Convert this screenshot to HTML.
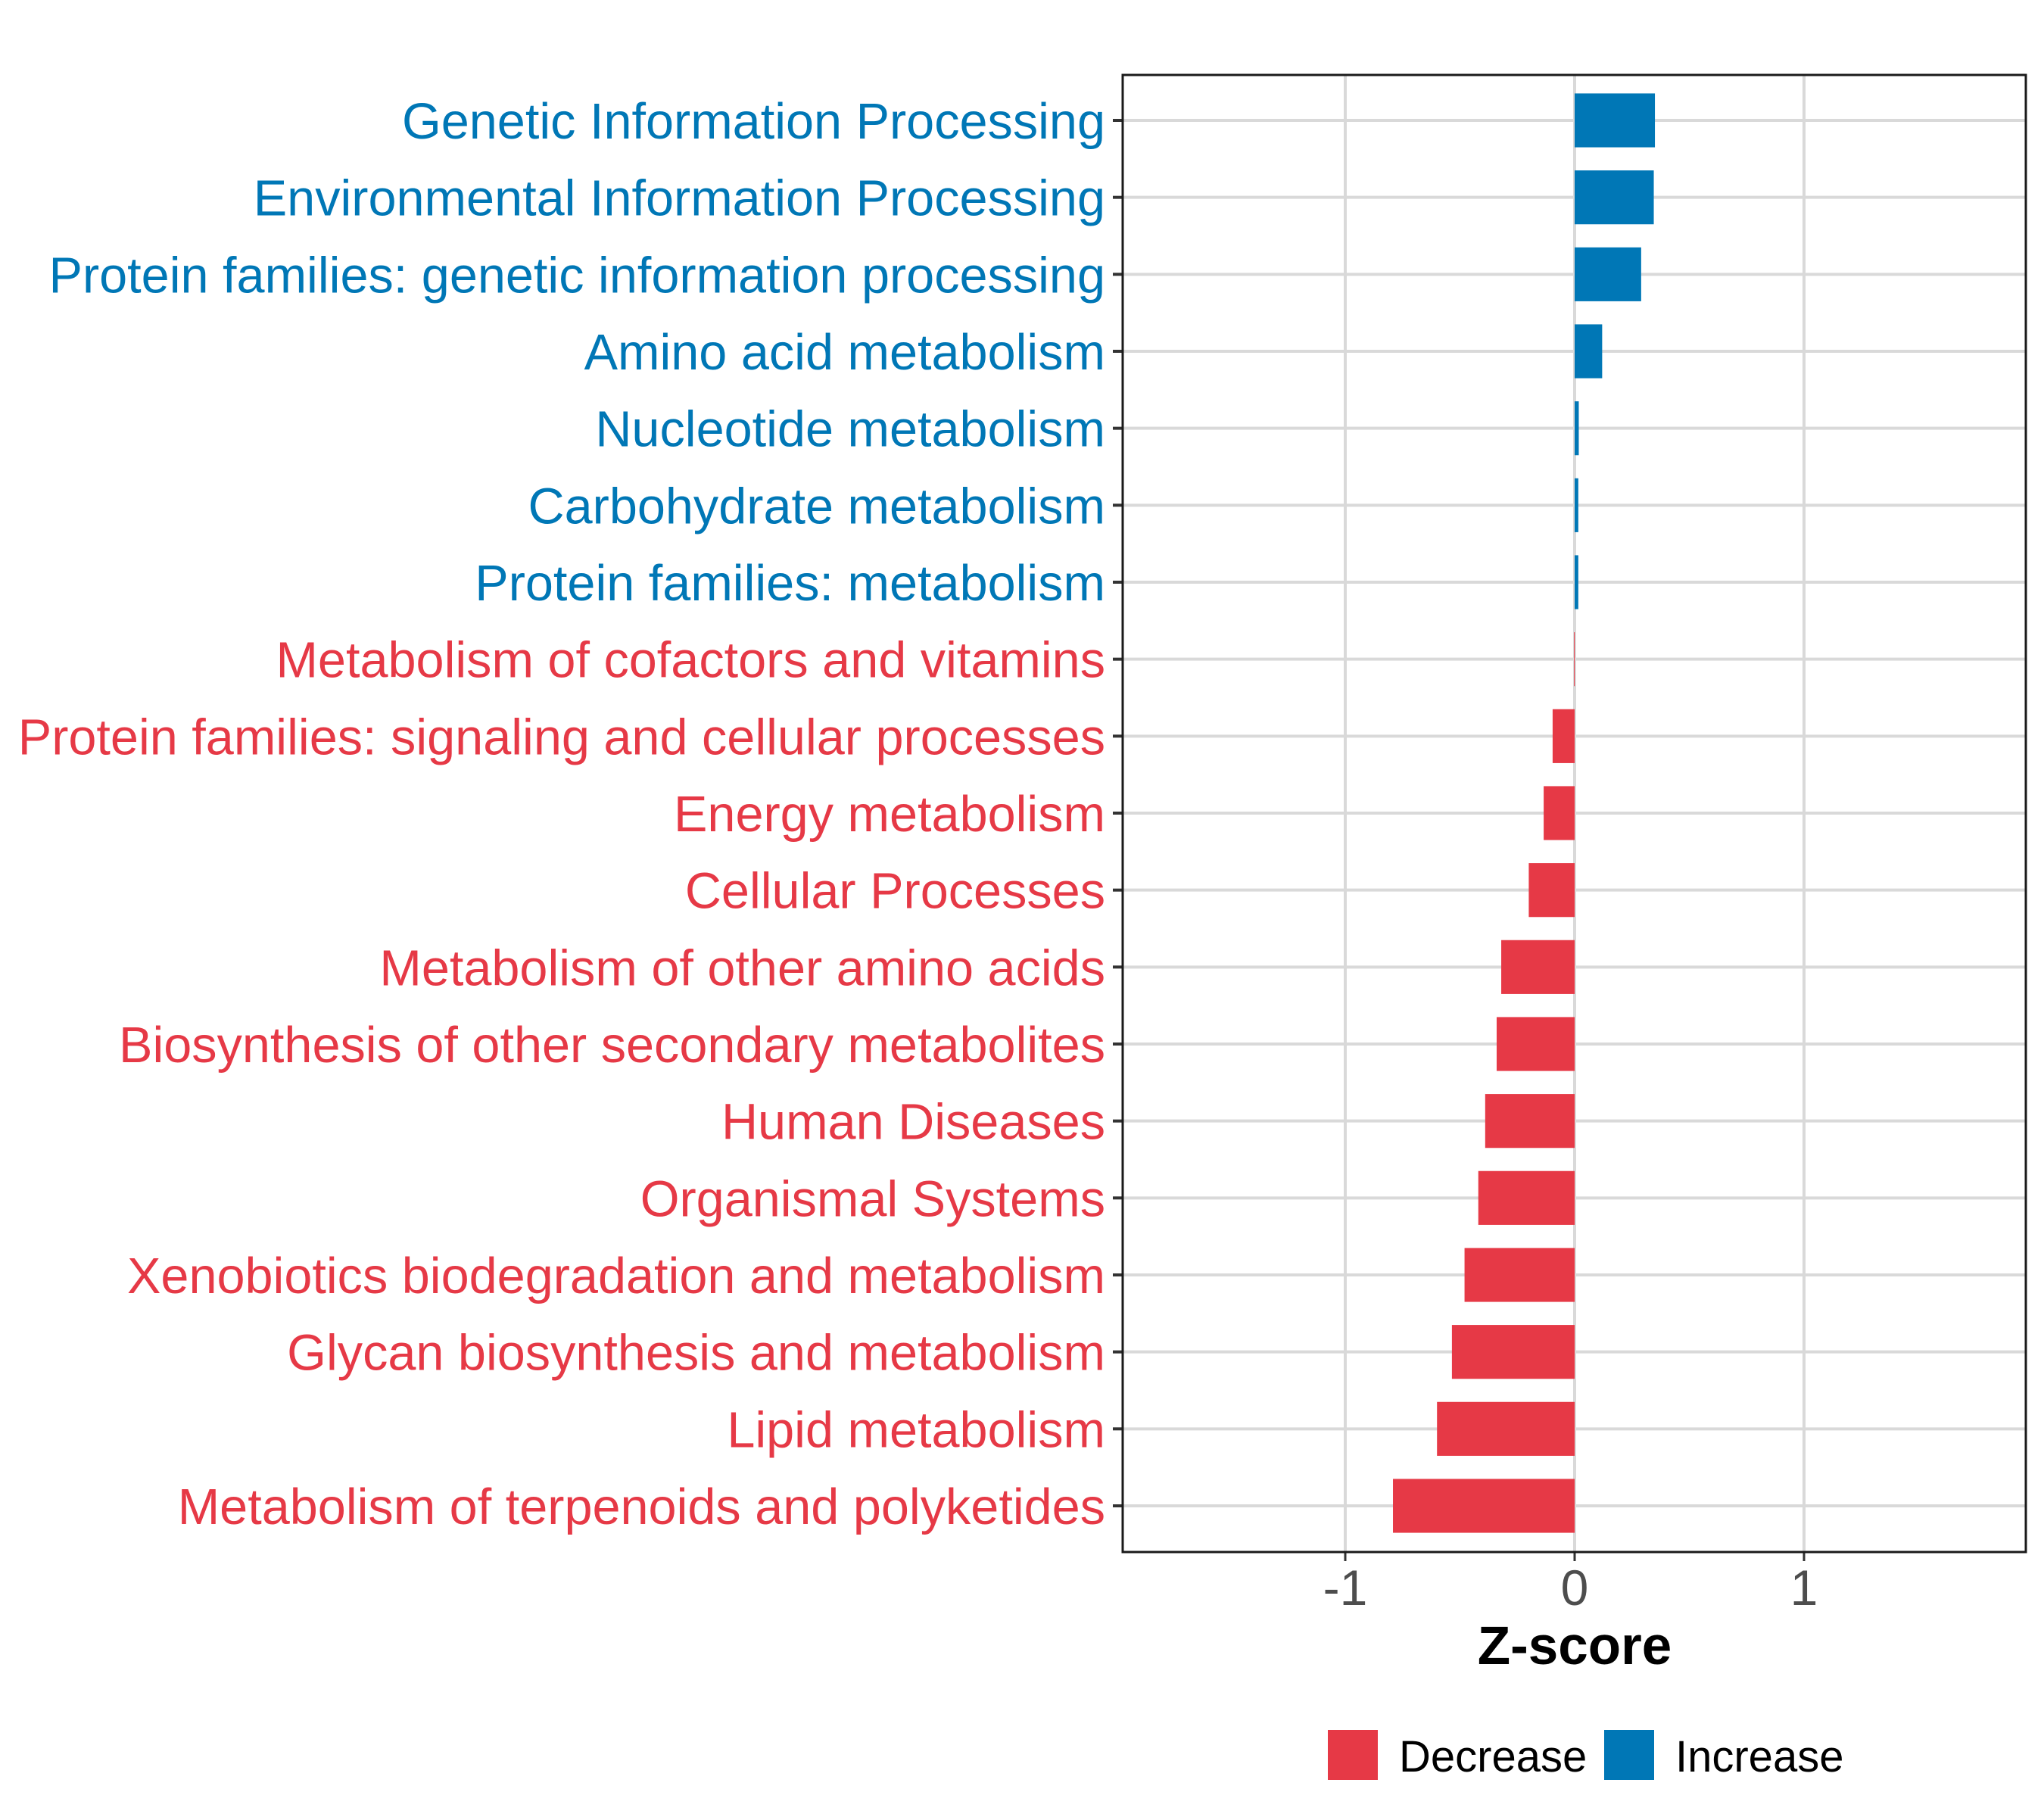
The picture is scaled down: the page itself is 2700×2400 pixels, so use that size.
<!DOCTYPE html>
<html><head><meta charset="utf-8"><style>
html,body{margin:0;padding:0;background:#fff;}
svg{display:block;font-family:"Liberation Sans",Arial,sans-serif;}
</style></head><body>
<svg id="chart" width="2700" height="2400" viewBox="0 0 2700 2400" xmlns="http://www.w3.org/2000/svg">
<rect x="0" y="0" width="2700" height="2400" fill="#fff"/>
<g id="grid"></g><g id="bars"></g><g id="labels"></g><g id="axis"></g>
<rect x="1483" y="99" width="1193" height="1951" fill="none" stroke="#1a1a1a" stroke-width="3"/>
<text x="2080" y="2198" font-size="71" font-weight="bold" text-anchor="middle" fill="#000">Z-score</text>
<g>
<rect x="1754" y="2285" width="66" height="66" fill="#E63946"/>
<text x="1848" y="2340" font-size="58" fill="#000">Decrease</text>
<rect x="2119" y="2285" width="66" height="66" fill="#0077B6"/>
<text x="2213" y="2340" font-size="58" fill="#000">Increase</text>
</g>
</svg>
<script>
const categories = ["Genetic Information Processing","Environmental Information Processing","Protein families: genetic information processing","Amino acid metabolism","Nucleotide metabolism","Carbohydrate metabolism","Protein families: metabolism","Metabolism of cofactors and vitamins","Protein families: signaling and cellular processes","Energy metabolism","Cellular Processes","Metabolism of other amino acids","Biosynthesis of other secondary metabolites","Human Diseases","Organismal Systems","Xenobiotics biodegradation and metabolism","Glycan biosynthesis and metabolism","Lipid metabolism","Metabolism of terpenoids and polyketides"];
const zscores = [0.35,0.345,0.29,0.12,0.018,0.016,0.016,-0.003,-0.096,-0.135,-0.2,-0.32,-0.34,-0.39,-0.42,-0.48,-0.535,-0.6,-0.792];
const xTicks = [-1,0,1];
const xTickLabels = ["-1","0","1"];

const NS="http://www.w3.org/2000/svg";
const L=1483,R=2676,T=99,B=2050;
const x0=2080,unit=303;
function xs(v){return x0+v*unit;}
const rowStep=(1989-159)/18;
function ys(i){return 159+i*rowStep;}
function mk(tag,attrs,parent){const e=document.createElementNS(NS,tag);for(const k in attrs)e.setAttribute(k,attrs[k]);parent.appendChild(e);return e;}
const grid=document.getElementById('grid'),bars=document.getElementById('bars'),labels=document.getElementById('labels'),axis=document.getElementById('axis');
xTicks.forEach((t,i)=>{
  const g=mk('line',{x1:xs(t),x2:xs(t),y1:T,y2:B,stroke:'#d9d9d9','stroke-width':4},grid);
  
  
  const tk=mk('line',{x1:xs(t),x2:xs(t),y1:B,y2:B+12,stroke:'#333','stroke-width':3},axis);
  
  
  const tl=mk('text',{x:xs(t),y:2120,'font-size':66,'text-anchor':'middle',fill:'#4d4d4d'},axis);
  tl.textContent=xTickLabels[i];
  
  
});
categories.forEach((c,i)=>{
  const y=ys(i);
  const gl=mk('line',{x1:L,x2:R,y1:y,y2:y,stroke:'#d9d9d9','stroke-width':4},grid);
  
  
  const v=zscores[i];
  const col=v>=0?'#0077B6':'#E63946';
  const h=rowStep*0.7;
  const bx=Math.min(xs(0),xs(v)),bw=Math.max(Math.abs(xs(v)-xs(0)),1);
  const b=mk('rect',{x:bx,y:y-h/2,width:bw,height:h,fill:col},bars);
  
  
  const tk=mk('line',{x1:1470,x2:L,y1:y,y2:y,stroke:'#333','stroke-width':4},axis);
  
  
  const t=mk('text',{x:1460,y:y+24,'font-size':66.6,'text-anchor':'end',fill:col},labels);
  t.textContent=c;
  
  
});
</script>
</body></html>
